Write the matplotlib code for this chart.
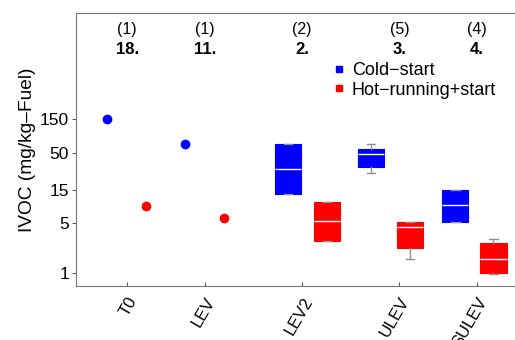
import numpy as np
import matplotlib.pyplot as plt
from matplotlib.lines import Line2D

plt.rcParams['font.family'] = ['Liberation Sans', 'DejaVu Sans']

# categories and top annotations
categories = ['T0', 'LEV', 'LEV2', 'ULEV', 'SULEV']
n_vehicles = ['(1)', '(1)', '(2)', '(5)', '(4)']
ranks = ['18.', '11.', '2.', '3.', '4.']

# single vehicle points (T0, LEV)
cold_points = [152, 66]
hot_points = [8.8, 5.9]

# box stats (whislo, q1, med, q3, whishi) for LEV2, ULEV, SULEV
cold_boxes = [
    (13.0, 13.0, 29.0, 66.5, 66.5),
    (26.0, 31.7, 48.0, 57.0, 66.5),
    (5.2, 5.2, 9.1, 14.8, 14.8),
]
hot_boxes = [
    (2.85, 2.85, 5.45, 10.1, 10.1),
    (1.58, 2.24, 4.48, 5.17, 5.28),
    (0.95, 1.0, 1.55, 2.66, 2.97),
]

# layout (x positions in axis units)
tick_x = [1, 2, 3.25, 4.5, 5.5]
cold_x = [0.742, 1.748, 3.065, 4.135, 5.219]
hot_x = [1.245, 2.239, 3.568, 4.639, 5.710]

fig = plt.figure(figsize=(5.15, 3.4), dpi=100)
ax = fig.add_axes([0.1476, 0.1588, 0.865, 0.803])

ax.scatter(cold_x[:2], cold_points, s=36, color='#0000ff', zorder=3)
ax.scatter(hot_x[:2], hot_points, s=36, color='#ff0000', zorder=3)


def to_stats(boxes):
    return [dict(whislo=b[0], q1=b[1], med=b[2], q3=b[3], whishi=b[4], fliers=[])
            for b in boxes]


for boxes, xs, col in [(cold_boxes, cold_x[2:], '#0000ff'),
                       (hot_boxes, hot_x[2:], '#ff0000')]:
    ax.bxp(to_stats(boxes), positions=xs, widths=0.335, patch_artist=True,
           showfliers=False, capwidths=0.11,
           boxprops=dict(facecolor=col, edgecolor=col, linewidth=0.8),
           medianprops=dict(color='white', linewidth=1.0),
           whiskerprops=dict(color='#909090', linewidth=1.0),
           capprops=dict(color='#909090', linewidth=1.0),
           manage_ticks=False, zorder=2)

ax.set_yscale('log')
ax.set_ylim(0.65, 4760)
ax.set_xlim(0.342, 6.07)
ax.set_yticks([1, 5, 15, 50, 150])
ax.set_yticklabels(['1', '5', '15', '50', '150'])
ax.minorticks_off()
ax.set_xticks(tick_x)
ax.set_xticklabels(categories, rotation=60, ha='right', rotation_mode='anchor')
ax.tick_params(axis='y', labelsize=12.5, direction='out', length=3,
               color='#555555', pad=2)
ax.tick_params(axis='x', labelsize=12, direction='in', length=3,
               color='#555555', pad=6)
ax.set_ylabel('IVOC (mg/kg\u2013Fuel)', fontsize=13.8, labelpad=3)

for side in ['left', 'bottom', 'top']:
    ax.spines[side].set_color('#777777')
ax.spines['right'].set_visible(False)

for x, n, r in zip(tick_x, n_vehicles, ranks):
    ax.text(x, 0.941, n, transform=ax.get_xaxis_transform(),
            ha='center', va='center', fontsize=11.5)
    ax.text(x, 0.868, r, transform=ax.get_xaxis_transform(),
            ha='center', va='center', fontsize=12, fontweight='bold')

handles = [Line2D([], [], marker='s', linestyle='none', color='#0000ff',
                  markersize=4.5, label='Cold\u2212start'),
           Line2D([], [], marker='s', linestyle='none', color='#ff0000',
                  markersize=4.5, label='Hot\u2212running+start')]
ax.legend(handles=handles, loc='upper left', bbox_to_anchor=(0.648, 0.818),
          bbox_transform=fig.transFigure, frameon=False, fontsize=13,
          handlelength=0.6, handletextpad=0.4, labelspacing=0.15,
          borderaxespad=0, borderpad=0)

fig.savefig('out.png', dpi=100)
